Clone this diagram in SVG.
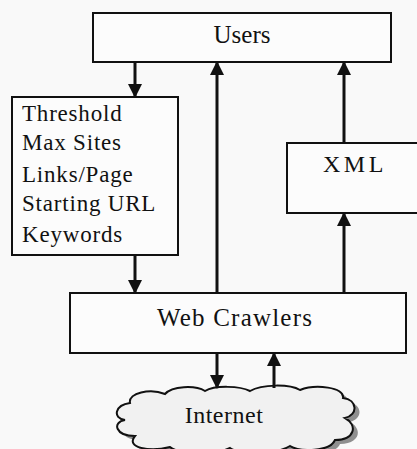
<svg xmlns="http://www.w3.org/2000/svg" width="417" height="449" viewBox="0 0 417 449">
<style>
.box{fill:#fcfcfc;stroke:#111;stroke-width:2}
.t{font-family:"Liberation Serif","Times New Roman",serif;fill:#111}
.c{stroke:#111;stroke-width:3;fill:none}
</style>
<defs>
<marker id="ah" markerUnits="userSpaceOnUse" viewBox="0 0 14 14" refX="13" refY="7" markerWidth="14" markerHeight="14" orient="auto">
<path d="M0,0 L14,7 L0,14 Z" fill="#111"/>
</marker>
</defs>
<rect width="417" height="449" fill="#f9f9f9"/>
<g id="users">
<rect class="box" x="93" y="13" width="298" height="49"/>
<text class="t" x="242" y="43" font-size="25" text-anchor="middle">Users</text>
</g>
<g id="params">
<rect class="box" x="12" y="97" width="166" height="158"/>
<text class="t" font-size="23" letter-spacing="0.8">
<tspan x="22" y="121">Threshold</tspan>
<tspan x="22" y="150">Max Sites</tspan>
<tspan x="22" y="182">Links/Page</tspan>
<tspan x="22" y="211">Starting URL</tspan>
<tspan x="22" y="242">Keywords</tspan>
</text>
</g>
<g id="xml">
<rect class="box" x="287" y="143" width="135" height="70"/>
<text class="t" x="323" y="172" font-size="24" letter-spacing="3.5">XML</text>
</g>
<g id="webcrawlers">
<rect class="box" x="70" y="293" width="336" height="60"/>
<text class="t" x="157" y="326" font-size="25" letter-spacing="1.2">Web Crawlers</text>
</g>
<g id="internet">
<path d="M 125 420 C 112 418, 115 405, 130 403 C 128 393, 150 388, 165 394 C 172 386, 195 385, 205 391 C 215 385, 240 386, 250 391 C 262 384, 290 384, 300 390 C 315 384, 345 387, 343 398 C 358 400, 358 415, 345 418 C 358 425, 355 440, 335 440 C 330 452, 300 452, 290 446 C 275 455, 240 455, 230 448 C 215 455, 180 455, 170 447 C 150 452, 125 448, 135 436 C 115 436, 112 422, 125 420 Z" transform="translate(5,4)" fill="#8f8f8f"/>
<path d="M 125 420 C 112 418, 115 405, 130 403 C 128 393, 150 388, 165 394 C 172 386, 195 385, 205 391 C 215 385, 240 386, 250 391 C 262 384, 290 384, 300 390 C 315 384, 345 387, 343 398 C 358 400, 358 415, 345 418 C 358 425, 355 440, 335 440 C 330 452, 300 452, 290 446 C 275 455, 240 455, 230 448 C 215 455, 180 455, 170 447 C 150 452, 125 448, 135 436 C 115 436, 112 422, 125 420 Z" fill="#f1f1f1" stroke="#111" stroke-width="2"/>
<text class="t" x="224" y="423" font-size="24" text-anchor="middle" letter-spacing="0.5">Internet</text>
</g>
<g id="connectors">
<line class="c" x1="135" y1="62" x2="135" y2="97" marker-end="url(#ah)"/>
<line class="c" x1="217" y1="293" x2="217" y2="62" marker-end="url(#ah)"/>
<line class="c" x1="344" y1="143" x2="344" y2="62" marker-end="url(#ah)"/>
<line class="c" x1="344" y1="293" x2="344" y2="213" marker-end="url(#ah)"/>
<line class="c" x1="135" y1="255" x2="135" y2="293" marker-end="url(#ah)"/>
<line class="c" x1="217" y1="353" x2="217" y2="388" marker-end="url(#ah)"/>
<line class="c" x1="274" y1="388" x2="274" y2="353" marker-end="url(#ah)"/>
</g>
</svg>
